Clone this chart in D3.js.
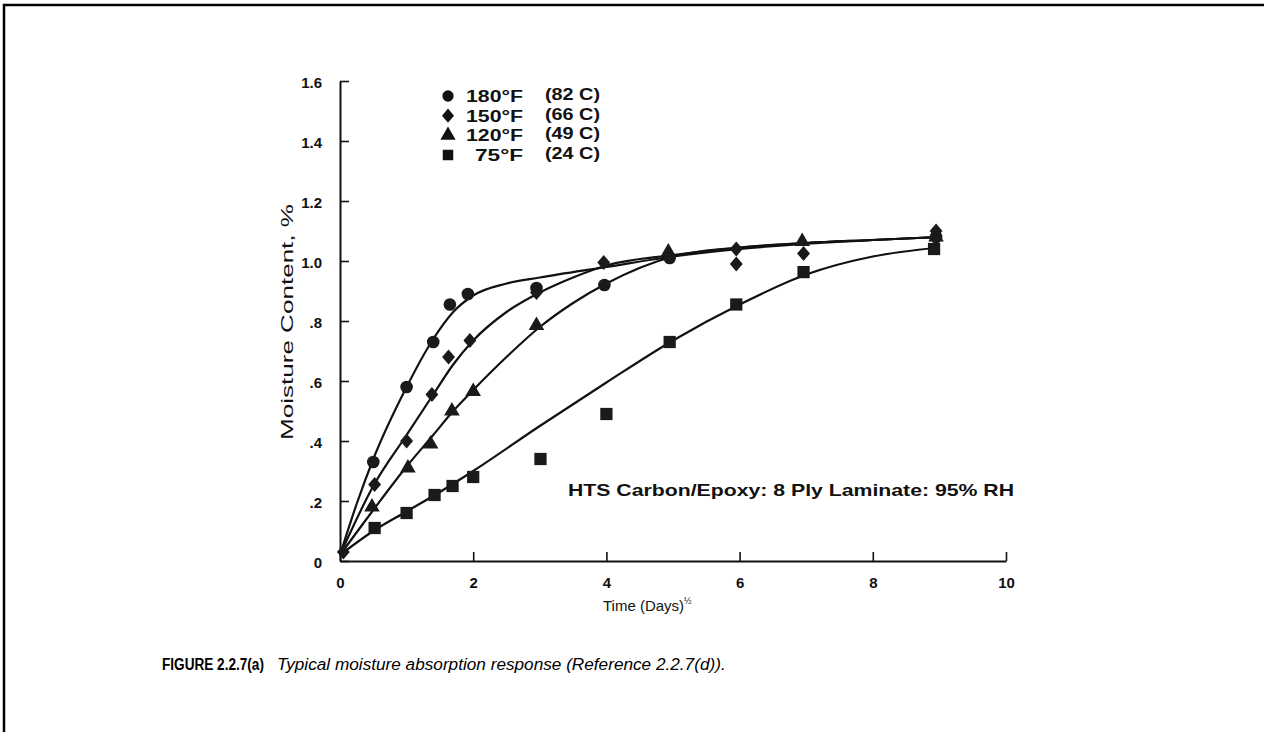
<!DOCTYPE html>
<html>
<head>
<meta charset="utf-8">
<script src="https://cdn.jsdelivr.net/npm/d3@7"></script>
<style>
  body { margin: 0; background: #fff; }
  svg { display: block; }
</style>
</head>
<body>
<div id="chart"></div>
<script>
// tick values and labels
var xTicks = [0, 2, 4, 6, 8, 10];
var yTicks = [0, 0.2, 0.4, 0.6, 0.8, 1.0, 1.2, 1.4, 1.6];
var yTickLabels = ["0", ".2", ".4", ".6", ".8", "1.0", "1.2", "1.4", "1.6"];

// measured points, [sqrt(days), moisture %]
var pts180 = [[0.5, 0.33], [1.0, 0.58], [1.4, 0.73], [1.65, 0.855], [1.92, 0.89], [2.95, 0.91], [3.97, 0.92], [4.95, 1.01], [8.95, 1.08]];
var pts150 = [[0.05, 0.03], [0.52, 0.255], [1.0, 0.40], [1.38, 0.555], [1.63, 0.68], [1.95, 0.735], [2.95, 0.895], [3.96, 0.995], [5.95, 1.04], [5.95, 0.99], [6.96, 1.025], [8.95, 1.10]];
var pts120 = [[0.48, 0.18], [1.02, 0.31], [1.36, 0.39], [1.68, 0.50], [2.0, 0.565], [2.95, 0.785], [4.93, 1.03], [6.94, 1.065], [8.95, 1.08]];
var pts75 = [[0.52, 0.11], [1.0, 0.16], [1.42, 0.22], [1.69, 0.25], [2.0, 0.28], [3.01, 0.34], [4.0, 0.49], [4.95, 0.73], [5.95, 0.855], [6.96, 0.963], [8.92, 1.04]];

// fitted curves as drawn
var fit180 = [[0, 0.02], [0.25, 0.19], [0.5, 0.34], [1.0, 0.58], [1.4, 0.74], [1.7, 0.83], [2.0, 0.885], [2.5, 0.925], [3.0, 0.945], [4.0, 0.98], [5.0, 1.015], [6.0, 1.04], [7.0, 1.058], [8.0, 1.07], [9.0, 1.08]];
var fit150 = [[0, 0.02], [0.5, 0.25], [1.0, 0.42], [1.4, 0.555], [1.7, 0.655], [2.0, 0.735], [2.5, 0.83], [3.0, 0.895], [3.5, 0.945], [4.0, 0.985], [5.0, 1.02], [6.0, 1.045], [7.0, 1.06], [8.0, 1.07], [9.0, 1.08]];
var fit120 = [[0, 0.02], [0.5, 0.17], [1.0, 0.315], [1.4, 0.42], [1.7, 0.5], [2.0, 0.57], [2.5, 0.68], [3.0, 0.78], [3.5, 0.86], [4.0, 0.925], [5.0, 1.015], [6.0, 1.045], [7.0, 1.06], [8.0, 1.07], [9.0, 1.08]];
var fit75 = [[0, 0.02], [0.5, 0.1], [1.0, 0.165], [1.5, 0.23], [2.0, 0.3], [3.0, 0.45], [4.0, 0.595], [5.0, 0.735], [6.0, 0.855], [7.0, 0.955], [8.0, 1.015], [9.0, 1.045]];

var legendTemps = ["180\u00b0F", "150\u00b0F", "120\u00b0F", "75\u00b0F"];
var legendCels = ["(82 C)", "(66 C)", "(49 C)", "(24 C)"];

var width = 1264, height = 732;

var svg = d3.select("#chart")
  .append("svg")
    .attr("width", width)
    .attr("height", height);

// page frame (top and left edges are what show)
svg.append("path")
  .attr("d", "M4,740 L4,5 L1270,5")
  .attr("fill", "none")
  .attr("stroke", "#000")
  .attr("stroke-width", 2.5);

var x = d3.scaleLinear().domain([0, 10]).range([340, 1006]);
var y = d3.scaleLinear().domain([0, 1.6]).range([561, 81]);

var ink = "#111";
var tickFont = "'Liberation Sans', Arial, sans-serif";

// x axis, ticks pointing up
var xAxis = svg.append("g").attr("transform", "translate(0," + y(0) + ")")
  .call(d3.axisBottom(x).tickValues(xTicks).tickSizeInner(-9).tickSizeOuter(0).tickPadding(16)
    .tickFormat(d3.format("d")));
xAxis.select(".domain").attr("stroke", ink).attr("stroke-width", 2);
xAxis.selectAll(".tick line").attr("stroke", ink).attr("stroke-width", 1.6);
xAxis.selectAll(".tick text")
  .attr("font-family", tickFont).attr("font-weight", "bold").attr("font-size", 15).attr("fill", ink);

// y axis, ticks pointing right
var yAxis = svg.append("g").attr("transform", "translate(" + x(0) + ",0)")
  .call(d3.axisLeft(y).tickValues(yTicks).tickSizeInner(-9).tickSizeOuter(0).tickPadding(18)
    .tickFormat(function(d, i) { return yTickLabels[i]; }));
yAxis.select(".domain").attr("stroke", ink).attr("stroke-width", 2);
yAxis.selectAll(".tick line").attr("stroke", ink).attr("stroke-width", 1.6);
yAxis.selectAll(".tick text")
  .attr("font-family", tickFont).attr("font-weight", "bold").attr("font-size", 15).attr("fill", ink)
  .attr("dy", "0.4em");

// axis titles
svg.append("text")
  .attr("transform", "translate(293,322) rotate(-90)")
  .attr("text-anchor", "middle")
  .attr("font-family", tickFont).attr("font-size", 17).attr("fill", ink)
  .attr("textLength", 236).attr("lengthAdjust", "spacingAndGlyphs")
  .text("Moisture Content, %");

var xt = svg.append("text")
  .attr("x", 603).attr("y", 611)
  .attr("font-family", tickFont).attr("font-size", 15).attr("fill", ink)
  .text("Time (Days)");
xt.append("tspan").attr("dy", -7).attr("font-size", 9).text("\u00bd");

// note
svg.append("text")
  .attr("x", 568).attr("y", 496)
  .attr("font-family", tickFont).attr("font-weight", "bold").attr("font-size", 17).attr("fill", ink)
  .attr("textLength", 446).attr("lengthAdjust", "spacingAndGlyphs")
  .text("HTS Carbon/Epoxy: 8 Ply Laminate: 95% RH");

// curves
var line = d3.line()
  .x(function(d) { return x(d[0]); })
  .y(function(d) { return y(d[1]); })
  .curve(d3.curveMonotoneX);

[fit180, fit150, fit120, fit75].forEach(function(f) {
  svg.append("path")
    .datum(f)
    .attr("d", line)
    .attr("fill", "none")
    .attr("stroke", ink)
    .attr("stroke-width", 2.2);
});

// markers; the diamond is a square turned 45 degrees and squeezed a little
var series = [
  {pts: pts180, sym: d3.symbolCircle, size: 125, extra: ""},
  {pts: pts150, sym: d3.symbolSquare, size: 115, extra: " scale(0.85,1) rotate(45)"},
  {pts: pts120, sym: d3.symbolTriangle, size: 105, extra: ""},
  {pts: pts75, sym: d3.symbolSquare, size: 150, extra: ""}
];

series.forEach(function(s) {
  svg.append("g")
    .selectAll("path")
    .data(s.pts)
    .enter()
    .append("path")
      .attr("transform", function(d) { return "translate(" + x(d[0]) + "," + y(d[1]) + ")" + s.extra; })
      .attr("d", d3.symbol().type(s.sym).size(s.size))
      .attr("fill", "#1a1a1a");
});

// legend
var legend = svg.append("g");
var legRowY = d3.scaleLinear().domain([0, 3]).range([96, 155]);
legendTemps.forEach(function(t, i) {
  var ly = legRowY(i);
  legend.append("path")
    .attr("transform", "translate(448," + ly + ")" + series[i].extra)
    .attr("d", d3.symbol().type(series[i].sym).size(i == 3 ? 110 : 100))
    .attr("fill", "#111");
  legend.append("text")
    .attr("x", 523).attr("y", ly + 6)
    .attr("text-anchor", "end")
    .attr("font-family", tickFont).attr("font-weight", "bold").attr("font-size", 16).attr("fill", ink)
    .attr("textLength", i == 3 ? 48 : 57).attr("lengthAdjust", "spacingAndGlyphs")
    .text(t);
  legend.append("text")
    .attr("x", 545).attr("y", ly + 4)
    .attr("font-family", tickFont).attr("font-weight", "bold").attr("font-size", 16).attr("fill", ink)
    .attr("textLength", 55).attr("lengthAdjust", "spacingAndGlyphs")
    .text(legendCels[i]);
});

// caption, the bold part is set condensed
svg.append("text")
  .attr("transform", "translate(162,670) scale(0.8,1)")
  .attr("font-family", tickFont).attr("font-weight", "bold").attr("font-size", 17).attr("fill", "#000")
  .text("FIGURE 2.2.7(a)");
svg.append("text")
  .attr("x", 277).attr("y", 670)
  .attr("font-family", tickFont).attr("font-style", "italic").attr("font-size", 17.2).attr("fill", "#000")
  .text("Typical moisture absorption response (Reference 2.2.7(d)).");
</script>
</body>
</html>
